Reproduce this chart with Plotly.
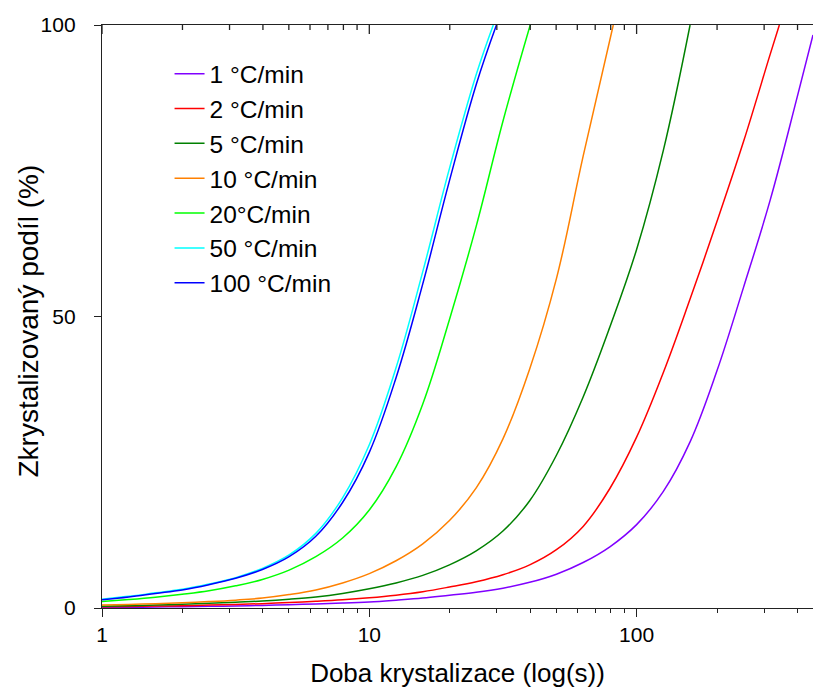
import numpy as np
import plotly.graph_objects as go

# ---- data ----
names = ["1 °C/min", "2 °C/min", "5 °C/min", "10 °C/min", "20°C/min", "50 °C/min", "100 °C/min"]
colors = ["#8000FF", "#FF0000", "#008000", "#FF8000", "#00FF00", "#00FFFF", "#0000FF"]

# sampling times (s), read along the log axis
t_grid = [1, 1.259, 1.585, 1.995, 2.512, 3.162, 3.981, 5.012, 6.310, 7.943,
          10, 12.59, 15.85, 19.95, 25.12, 31.62, 39.81, 50.12, 63.10, 79.43,
          100, 125.9, 158.5, 199.5, 251.2, 316.2, 398.1]

t_1 = t_grid[:27] + [457]
y_1 = [0.1, 0.13, 0.17, 0.22, 0.28, 0.35, 0.45, 0.57, 0.7, 0.85,
       1.05, 1.35, 1.7, 2.2, 2.7, 3.4, 4.4, 5.8, 7.8, 10.5,
       14.3, 20.0, 28.5, 40.6, 55.0, 70.0, 87.5, 98.3]

t_2 = t_grid[:26] + [342]
y_2 = [0.2, 0.27, 0.33, 0.4, 0.5, 0.6, 0.75, 0.95, 1.15, 1.4,
       1.75, 2.2, 2.8, 3.6, 4.5, 5.7, 7.4, 10.0, 14.0, 20.5,
       29.3, 40.4, 53.0, 66.2, 80.0, 95.0, 100]

t_5 = t_grid[:22] + [158.5]
y_5 = [0.3, 0.4, 0.5, 0.65, 0.8, 1.0, 1.2, 1.5, 1.9, 2.5,
       3.3, 4.3, 5.6, 7.4, 9.8, 13.2, 18.4, 26.2, 36.2, 48.2,
       61.5, 78.5, 100]

t_10 = t_grid[:19] + [81.8]
y_10 = [0.5, 0.6, 0.75, 0.9, 1.1, 1.35, 1.7, 2.3, 3.1, 4.3,
        5.9, 8.1, 11.0, 15.0, 20.6, 29.0, 41.0, 56.5, 77.5, 100]

t_20 = t_grid[:16] + [40.0]
y_20 = [1.1, 1.45, 1.85, 2.35, 2.95, 3.8, 4.9, 6.5, 8.8, 12.0,
        16.8, 24.2, 35.0, 49.5, 65.5, 83.5, 100]

t_50 = t_grid[:15] + [29.1]
y_50 = [1.5, 2.0, 2.6, 3.2, 4.1, 5.2, 6.8, 9.1, 12.8, 18.9,
        28.0, 41.2, 57.7, 75.4, 91.5, 100]

t_100 = t_grid[:15] + [29.9]
y_100 = [1.4, 1.9, 2.5, 3.1, 4.0, 5.1, 6.6, 8.8, 12.3, 18.1,
         26.7, 39.5, 55.6, 73.3, 89.8, 100]

series_t = [t_1, t_2, t_5, t_10, t_20, t_50, t_100]
series_y = [y_1, y_2, y_5, y_10, y_20, y_50, y_100]

x_tickvals = [1, 10, 100]
x_ticktext = ["1", "10", "100"]
x_minor = [2, 3, 4, 5, 6, 7, 8, 9, 20, 30, 40, 50, 60, 70, 80, 90, 200, 300, 400]
y_tickvals = [0, 50, 100]
x_max = 457

FONT = "Arial, 'Liberation Sans', sans-serif"
PLOT_H = 692 - 25 - 84

fig = go.Figure()
for i, (nm, col, tt, yy) in enumerate(zip(names, colors, series_t, series_y)):
    fig.add_trace(go.Scatter(
        x=tt, y=yy, mode="lines", name=nm,
        line=dict(color=col, width=1.5, shape="spline", smoothing=1.1, simplify=False),
        legendgroup=f"g{i}",
    ))

axis_common = dict(showgrid=False, zeroline=False, linecolor="#222", linewidth=1.3,
                   tickcolor="#222", tickwidth=1.3)

# inward ticks on the mirrored top axis, placed through the x (log) scale
top_ticks = []
for v in x_tickvals + x_minor:
    ln = 9 if v in x_tickvals else 5
    top_ticks.append(dict(type="line", xref="x", yref="paper", x0=v, x1=v,
                          y0=1, y1=1 - ln / PLOT_H, line=dict(color="#222", width=1.3)))

fig.update_layout(
    width=813, height=692,
    margin=dict(l=102, r=0, t=25, b=84),
    paper_bgcolor="white", plot_bgcolor="white",
    font=dict(family=FONT, color="black"),
    showlegend=True,
    legend=dict(x=0.095, y=0.955, xanchor="left", yanchor="top",
                font=dict(size=24.5, family=FONT, color="black"),
                bgcolor="rgba(0,0,0,0)", traceorder="grouped", tracegroupgap=0),
    xaxis=dict(type="log", range=[0, np.log10(x_max)],
               tickvals=x_tickvals, ticktext=x_ticktext,
               ticks="outside", ticklen=8, mirror=True,
               minor=dict(tickvals=x_minor, ticks="outside", ticklen=4, tickcolor="#222", tickwidth=1.3),
               tickfont=dict(size=21, family=FONT),
               title=dict(text="Doba krystalizace (log(s))", font=dict(size=26, family=FONT), standoff=18),
               showline=True, **axis_common),
    yaxis=dict(range=[0, 100], tickvals=y_tickvals, ticks="outside", ticklen=7,
               ticklabelstandoff=14,
               tickfont=dict(size=21, family=FONT),
               showline=True, **axis_common),
    shapes=top_ticks,
    annotations=[dict(text="Zkrystalizovaný podíl (%)", textangle=-90,
                      xref="paper", yref="paper", x=0, y=0.5, xshift=-74, yshift=-5,
                      xanchor="center", yanchor="middle", showarrow=False,
                      font=dict(size=28, family=FONT, color="black"))],
)

fig.write_html("out.html")
